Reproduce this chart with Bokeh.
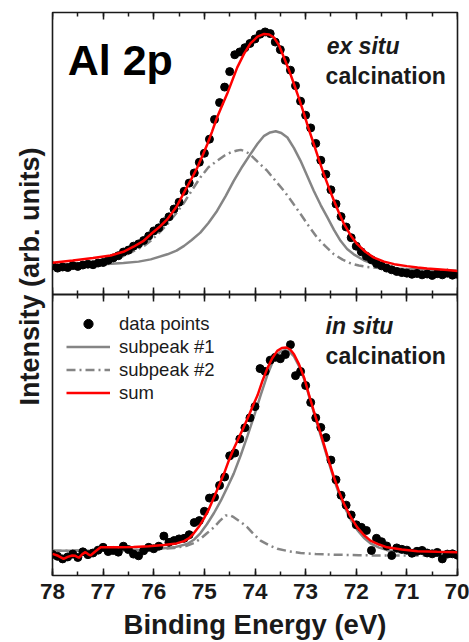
from bokeh.plotting import figure
from bokeh.models import (Range1d, LinearAxis, SingleIntervalTicker, Label, Legend,
                          LegendItem, CustomJSTickFormatter, Title)
from bokeh.embed import file_html
from bokeh.resources import INLINE

# ---------------- data ----------------
energy = [78.0, 77.9, 77.8, 77.7, 77.6, 77.5, 77.4, 77.3, 77.2, 77.1,
          77.0, 76.9, 76.8, 76.7, 76.6, 76.5, 76.4, 76.3, 76.2, 76.1,
          76.0, 75.9, 75.8, 75.7, 75.6, 75.5, 75.4, 75.3, 75.2, 75.1,
          75.0, 74.9, 74.8, 74.7, 74.6, 74.5, 74.4, 74.3, 74.2, 74.1,
          74.0, 73.9, 73.8, 73.7, 73.6, 73.5, 73.4, 73.3, 73.2, 73.1,
          73.0, 72.9, 72.8, 72.7, 72.6, 72.5, 72.4, 72.3, 72.2, 72.1,
          72.0, 71.9, 71.8, 71.7, 71.6, 71.5, 71.4, 71.3, 71.2, 71.1,
          71.0, 70.9, 70.8, 70.7, 70.6, 70.5, 70.4, 70.3, 70.2, 70.1, 70.0]

# ex situ calcination (top panel)
exsitu_data = [10.0, 9.2, 9.6, 9.4, 10.1, 9.8, 10.3, 10.6, 10.4, 11.0,
               11.2, 12.0, 12.8, 13.6, 14.9, 15.6, 17.0, 17.8, 19.0, 20.6,
               22.4, 23.5, 25.6, 27.4, 30.2, 32.6, 36.5, 39.4, 43.0, 46.8,
               50.0, 55.0, 62.0, 68.0, 73.5, 79.0, 85.0, 86.0, 87.5, 89.0,
               90.6, 92.3, 93.1, 92.5, 89.5, 86.8, 83.0, 79.5, 74.0, 68.5,
               63.5, 59.0, 53.5, 47.5, 42.5, 37.0, 32.0, 27.5, 23.8, 20.0,
               17.0, 15.0, 13.4, 12.2, 10.8, 10.0, 9.2, 8.6, 8.0, 7.6,
               7.4, 7.0, 7.3, 6.8, 7.1, 6.6, 7.2, 6.8, 7.4, 6.7, 7.0]

exsitu_sum_e = [78.0, 77.6, 77.2, 76.85, 76.6, 76.4, 76.2, 76.06, 75.9, 75.73,
                75.55, 75.4, 75.27, 75.14, 75.04, 74.94, 74.85, 74.75, 74.65, 74.55,
                74.45, 74.35, 74.22, 74.09, 73.95, 73.82, 73.72, 73.63, 73.53, 73.43,
                73.33, 73.23, 73.13, 73.03, 72.94, 72.84, 72.74, 72.64, 72.54, 72.44,
                72.34, 72.24, 72.11, 71.98, 71.82, 71.65, 71.45, 71.25, 71.0, 70.79,
                70.6, 70.4, 70.2, 70.0]
exsitu_sum = [11.1, 11.9, 12.8, 13.7, 15.0, 16.8, 18.9, 21.2, 23.6, 26.6,
              31.0, 36.1, 40.4, 44.9, 49.0, 53.3, 57.6, 62.7, 67.0, 71.1,
              75.8, 80.5, 85.2, 89.0, 91.4, 92.4, 92.2, 91.2, 88.5, 84.1,
              79.6, 74.6, 69.4, 63.9, 58.7, 53.3, 47.8, 42.6, 37.7, 33.1,
              28.8, 24.8, 20.8, 17.7, 15.0, 12.9, 11.5, 10.6, 9.9, 9.4,
              9.1, 8.8, 8.5, 8.2]

exsitu_p1_e = [78.0, 77.5, 77.0, 76.6, 76.3, 76.06, 75.73, 75.55, 75.4, 75.25,
               75.08, 74.92, 74.75, 74.58, 74.42, 74.25, 74.09, 73.95, 73.82, 73.7,
               73.59, 73.48, 73.36, 73.23, 73.1, 72.97, 72.84, 72.7, 72.57, 72.44,
               72.31, 72.18, 72.05, 71.85, 71.65, 71.45, 71.25, 71.0, 70.79, 70.4, 70.0]
exsitu_p1 = [10.4, 10.5, 10.6, 11.0, 11.5, 12.3, 14.1, 15.4, 17.1, 19.2,
             21.8, 25.2, 29.5, 34.8, 40.2, 45.3, 49.7, 53.4, 56.2, 57.4,
             57.8, 57.2, 55.6, 51.8, 47.3, 42.0, 36.7, 31.5, 27.2, 22.8,
             18.9, 16.0, 14.1, 12.0, 10.6, 9.7, 9.1, 8.9, 8.8, 8.5, 8.2]

exsitu_p2_e = [78.0, 77.5, 77.05, 76.7, 76.39, 76.2, 76.06, 75.9, 75.73, 75.56,
               75.4, 75.24, 75.08, 74.92, 74.75, 74.6, 74.48, 74.35, 74.28, 74.18,
               74.09, 73.95, 73.76, 73.6, 73.43, 73.26, 73.1, 72.94, 72.77, 72.6,
               72.44, 72.27, 72.11, 71.95, 71.78, 71.55, 71.32, 71.0, 70.5, 70.0]
exsitu_p2 = [10.2, 10.5, 11.1, 12.6, 15.3, 17.0, 18.9, 21.6, 24.8, 28.6,
             32.5, 37.0, 41.4, 45.0, 47.3, 49.2, 50.3, 51.0, 51.2, 50.6,
             49.5, 47.0, 43.8, 40.3, 36.7, 32.5, 28.4, 24.2, 20.0, 16.8,
             14.1, 12.2, 10.9, 10.1, 9.6, 9.2, 8.8, 8.6, 8.4, 8.2]

# in situ calcination (bottom panel)
insitu_data = [7.5, 6.8, 5.9, 6.6, 7.6, 6.4, 8.4, 7.4, 8.0, 9.0,
               10.0, 8.5, 8.9, 8.3, 10.4, 9.2, 7.6, 7.0, 8.8, 10.0,
               9.5, 10.4, 14.0, 11.8, 12.4, 13.0, 13.2, 14.5, 18.8, 19.5,
               22.8, 27.5, 27.8, 32.0, 35.0, 42.5, 43.5, 48.5, 52.5, 56.0,
               60.0, 73.5, 72.5, 76.5, 77.5, 77.0, 78.5, 82.0, 71.0, 72.5,
               67.5, 61.5, 56.0, 52.6, 49.0, 41.0, 34.0, 28.5, 25.0, 21.5,
               18.0, 17.1, 16.0, 8.9, 13.2, 12.0, 10.5, 7.1, 9.8, 9.3,
               9.0, 7.9, 8.6, 8.9, 8.0, 7.7, 8.2, 5.9, 7.6, 7.7, 7.2]

insitu_sum_e = [78.0, 77.89, 77.78, 77.7, 77.61, 77.55, 77.48, 77.41, 77.35, 77.3,
                77.25, 77.15, 77.05, 76.7, 76.4, 76.1, 75.8, 75.55, 75.4, 75.3,
                75.21, 75.11, 75.01, 74.91, 74.81, 74.71, 74.61, 74.52, 74.42, 74.32,
                74.22, 74.12, 74.02, 73.95, 73.86, 73.76, 73.66, 73.56, 73.47, 73.38,
                73.3, 73.23, 73.13, 73.03, 72.94, 72.84, 72.74, 72.64, 72.54, 72.44,
                72.34, 72.24, 72.11, 71.98, 71.85, 71.72, 71.55, 71.39, 71.1, 70.79,
                70.4, 70.0]
insitu_sum = [7.7, 7.0, 5.9, 6.6, 7.1, 7.0, 6.3, 7.6, 8.3, 7.6,
              7.1, 8.6, 10.0, 10.0, 10.1, 10.4, 10.8, 11.4, 12.2, 13.3,
              15.0, 17.3, 20.2, 23.6, 27.8, 32.0, 36.3, 40.7, 45.0, 48.9,
              52.8, 56.9, 61.2, 64.0, 68.8, 73.4, 77.2, 79.8, 80.8, 81.0,
              80.2, 78.6, 75.0, 70.3, 64.6, 58.5, 52.6, 46.7, 40.6, 34.9,
              29.8, 25.4, 20.8, 17.1, 14.4, 12.4, 11.0, 10.0, 9.2, 8.6,
              8.4, 8.3]

insitu_p1_e = [78.0, 77.0, 76.5, 76.0, 75.6, 75.34, 75.2, 75.08, 74.95, 74.81,
               74.68, 74.55, 74.42, 74.28, 74.15, 74.02, 73.89, 73.76, 73.66, 73.56,
               73.47, 73.4, 73.32, 73.23, 73.13, 73.03, 72.94, 72.84, 72.74, 72.64,
               72.54, 72.44, 72.34, 72.24, 72.11, 71.98, 71.85, 71.72, 71.55, 71.39,
               71.1, 70.79, 70.4, 70.0]
insitu_p1 = [8.8, 8.9, 9.0, 9.3, 10.0, 11.2, 12.8, 15.0, 18.2, 22.2,
             26.4, 31.2, 36.2, 42.8, 49.5, 56.5, 64.0, 71.0, 75.5, 78.5,
             79.8, 80.0, 79.5, 77.8, 74.4, 69.8, 64.2, 58.0, 52.0, 46.0,
             40.0, 34.2, 29.0, 24.6, 19.9, 16.2, 13.4, 11.4, 9.9, 9.0,
             8.2, 7.8, 7.6, 7.6]

insitu_p2_e = [78.0, 77.0, 76.5, 76.0, 75.6, 75.34, 75.2, 75.08, 74.95, 74.81,
               74.7, 74.58, 74.5, 74.42, 74.28, 74.15, 74.02, 73.89, 73.72, 73.56,
               73.33, 73.1, 72.8, 72.44, 71.95, 71.45, 70.7, 70.0]
insitu_p2 = [8.8, 8.9, 9.0, 9.3, 9.8, 10.6, 11.6, 13.0, 15.0, 17.1,
             19.3, 21.3, 21.4, 20.7, 19.0, 17.1, 14.6, 12.4, 10.7, 9.5,
             8.6, 8.0, 7.6, 7.4, 7.2, 7.1, 7.1, 7.1]

x_ticks_major = 1
legend_labels = ["data points", "subpeak #1", "subpeak #2", "sum"]

# ---------------- styling ----------------
FONT = "Liberation Sans"
GRAY = "#858585"
RED = "#ff0000"
INK = "#1a1a1a"

p = figure(width=469, height=642, output_backend="svg", toolbar_location=None,
           x_range=Range1d(78, 70), y_range=Range1d(0, 1),
           x_axis_location=None, y_axis_location=None,
           min_border_left=52, min_border_right=12, min_border_top=12, min_border_bottom=67,
           background_fill_color="white", border_fill_color="white")
p.grid.visible = False
p.outline_line_color = INK
p.outline_line_width = 1.6

# upper half: ex situ; lower half: in situ
p.extra_y_ranges = {"top": Range1d(-100, 100), "bot": Range1d(0, 200)}


def make_axis(labels, fixed=None, divider=False):
    ax = LinearAxis(ticker=SingleIntervalTicker(interval=x_ticks_major, num_minor_ticks=2))
    ax.major_tick_in = 7
    ax.major_tick_out = 0
    ax.minor_tick_in = 4
    ax.minor_tick_out = 0
    ax.major_tick_line_color = INK
    ax.major_tick_line_width = 1.5
    ax.minor_tick_line_color = INK
    ax.minor_tick_line_width = 1.5
    if divider:
        ax.axis_line_color = INK
        ax.axis_line_width = 2
    else:
        ax.axis_line_color = None
    if fixed is not None:
        ax.fixed_location = fixed
    if labels:
        ax.major_label_text_font = FONT
        ax.major_label_text_font_size = "22.5px"
        ax.major_label_text_font_style = "bold"
        ax.major_label_text_color = INK
        ax.major_label_standoff = 8
        ax.axis_label = "Binding Energy (eV)"
        ax.axis_label_text_font = FONT
        ax.axis_label_text_font_size = "27.5px"
        ax.axis_label_text_font_style = "bold"
        ax.axis_label_text_color = INK
        ax.axis_label_standoff = 7
    else:
        ax.formatter = CustomJSTickFormatter(code="return ''")
        ax.major_label_text_font_size = "0px"
        ax.major_label_standoff = 0
    return ax


p.add_layout(make_axis(True), "below")
p.add_layout(make_axis(False, fixed=1.0), "above")
p.add_layout(make_axis(False, fixed=0.5, divider=True), "below")
p.add_layout(make_axis(False, fixed=0.5), "above")

# shared y title on the left, spanning both panels
p.add_layout(Title(text="Intensity (arb. units)", align="left", offset=170, standoff=16,
                   vertical_align="bottom", text_font=FONT, text_font_size="27px",
                   text_font_style="bold", text_color=INK), "left")

# top panel
p.line(exsitu_p1_e, exsitu_p1, y_range_name="top", line_color=GRAY, line_width=2.5)
p.line(exsitu_p2_e, exsitu_p2, y_range_name="top", line_color=GRAY, line_width=2.5,
       line_dash="9 4 2 4")
p.scatter(energy, exsitu_data, y_range_name="top", size=8, color="black")
p.line(exsitu_sum_e, exsitu_sum, y_range_name="top", line_color=RED, line_width=2.5)

# bottom panel
r1 = p.line(insitu_p1_e, insitu_p1, y_range_name="bot", line_color=GRAY, line_width=2.5)
r2 = p.line(insitu_p2_e, insitu_p2, y_range_name="bot", line_color=GRAY, line_width=2.5,
            line_dash="9 4 2 4")
r0 = p.scatter(energy, insitu_data, y_range_name="bot", size=8, color="black")
r3 = p.line(insitu_sum_e, insitu_sum, y_range_name="bot", line_color=RED, line_width=2.5)

legend = Legend(items=[LegendItem(label=legend_labels[0], renderers=[r0]),
                       LegendItem(label=legend_labels[1], renderers=[r1]),
                       LegendItem(label=legend_labels[2], renderers=[r2]),
                       LegendItem(label=legend_labels[3], renderers=[r3])],
                location=(14, 171), glyph_width=44, glyph_height=23, label_height=23,
                spacing=0, padding=0, margin=0, label_standoff=9,
                label_text_font=FONT, label_text_font_size="18.5px", label_text_color=INK,
                background_fill_alpha=0, border_line_alpha=0)
p.add_layout(legend)

# texts
p.add_layout(Label(x=77.70, y=83.2, y_range_name="top", text="Al 2p", text_font=FONT,
                   text_font_size="43px", text_font_style="bold", text_color="black",
                   text_align="left", text_baseline="alphabetic"))
p.add_layout(Label(x=72.585, y=88.0, y_range_name="top", text="ex situ", text_font=FONT,
                   text_font_size="23px", text_font_style="bold italic", text_color=INK,
                   text_align="left", text_baseline="alphabetic"))
p.add_layout(Label(x=72.605, y=77.6, y_range_name="top", text="calcination", text_font=FONT,
                   text_font_size="23px", text_font_style="bold", text_color=INK,
                   text_align="left", text_baseline="alphabetic"))
p.add_layout(Label(x=72.605, y=88.6, y_range_name="bot", text="in situ", text_font=FONT,
                   text_font_size="23px", text_font_style="bold italic", text_color=INK,
                   text_align="left", text_baseline="alphabetic"))
p.add_layout(Label(x=72.605, y=77.9, y_range_name="bot", text="calcination", text_font=FONT,
                   text_font_size="23px", text_font_style="bold", text_color=INK,
                   text_align="left", text_baseline="alphabetic"))

open("out.html", "w").write(file_html(p, INLINE))
